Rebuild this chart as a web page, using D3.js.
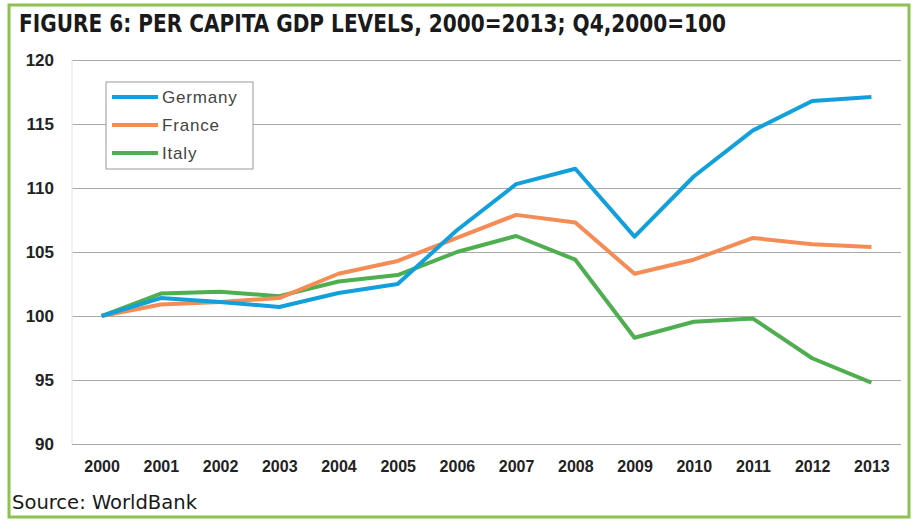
<!DOCTYPE html>
<html>
<head>
<meta charset="utf-8">
<script src="https://cdnjs.cloudflare.com/ajax/libs/d3/7.8.5/d3.min.js"></script>
<style>
  body { margin: 0; background: #fff; }
  svg { display: block; }
  .ylab text, .xlab text { font-family: "Liberation Sans", Arial, sans-serif; font-weight: bold; fill: #222; }
</style>
</head>
<body>
<div id="main"></div>
<script>
const YEARS = ["2000","2001","2002","2003","2004","2005","2006","2007","2008","2009","2010","2011","2012","2013"];
const GERMANY = [100, 101.4, 101.1, 100.7, 101.8, 102.5, 106.7, 110.3, 111.5, 106.2, 110.9, 114.5, 116.8, 117.1];
const FRANCE  = [100, 100.9, 101.1, 101.4, 103.3, 104.3, 106.1, 107.9, 107.3, 103.3, 104.4, 106.1, 105.6, 105.4];
const ITALY   = [100, 101.75, 101.9, 101.55, 102.7, 103.2, 105.0, 106.25, 104.4, 98.3, 99.55, 99.8, 96.7, 94.8];
const Y_TICKS = [90, 95, 100, 105, 110, 115, 120];

const SERIES = [
  {name: "Germany", values: GERMANY, color: "#12a0dc"},
  {name: "France",  values: FRANCE,  color: "#f58c55"},
  {name: "Italy",   values: ITALY,   color: "#4fae4f"}
];

const width = 912, height = 520;
const plotLeft = 72, plotRight = 901, plotTop = 60, plotBottom = 444;

const svg = d3.select('#main')
  .append('svg')
  .attr('width', width)
  .attr('height', height);

svg.append('rect')
  .attr('width', width).attr('height', height)
  .attr('fill', '#fff');

// green frame
svg.append('rect')
  .attr('x', 9).attr('y', 5)
  .attr('width', 900).attr('height', 512)
  .attr('fill', 'none')
  .attr('stroke', '#8cc152')
  .attr('stroke-width', 3);

svg.append('text')
  .attr('x', 19).attr('y', 32)
  .attr('textLength', 707)
  .attr('lengthAdjust', 'spacingAndGlyphs')
  .style('font-family', '"Liberation Sans Narrow", "DejaVu Sans Condensed", sans-serif')
  .style('font-weight', 'bold')
  .style('font-size', '24px')
  .style('fill', '#1a1a1a')
  .text('FIGURE 6: PER CAPITA GDP LEVELS, 2000=2013; Q4,2000=100');

const x = d3.scalePoint()
  .domain(YEARS)
  .range([plotLeft, plotRight])
  .padding(0.5);

const y = d3.scaleLinear()
  .domain([90, 120])
  .range([plotBottom, plotTop]);

// gridlines + y labels
const yAxis = svg.append('g')
  .attr('class', 'ylab')
  .attr('transform', `translate(${plotLeft},0)`)
  .call(d3.axisLeft(y).tickValues(Y_TICKS).tickSize(-(plotRight - plotLeft)).tickPadding(18));
yAxis.select('.domain').remove();
yAxis.selectAll('line').attr('stroke', '#a8a8a8').attr('stroke-width', 1);
yAxis.selectAll('text').style('font-size', '17px');

svg.append('line')
  .attr('x1', plotLeft).attr('x2', plotLeft)
  .attr('y1', plotTop).attr('y2', plotBottom)
  .attr('stroke', '#e2e2e2');

const xAxis = svg.append('g')
  .attr('class', 'xlab')
  .attr('transform', `translate(0,${plotBottom})`)
  .call(d3.axisBottom(x).tickSize(0).tickPadding(17));
xAxis.select('.domain').remove();
xAxis.selectAll('text').style('font-size', '16px');

const line = d3.line()
  .x((d, i) => x(YEARS[i]))
  .y(d => y(d));

svg.selectAll('.series')
  .data(SERIES.slice().reverse())
  .enter().append('path')
  .attr('class', 'series')
  .attr('d', d => line(d.values))
  .attr('fill', 'none')
  .attr('stroke', d => d.color)
  .attr('stroke-width', 4)
  .attr('stroke-linejoin', 'round');

// legend
const legend = svg.append('g').attr('transform', 'translate(106,82)');
legend.append('rect')
  .attr('width', 147).attr('height', 87)
  .attr('fill', '#fff')
  .attr('stroke', '#9a9a9a');
const item = legend.selectAll('.item')
  .data(SERIES)
  .enter().append('g')
  .attr('transform', (d, i) => `translate(6,${15 + i * 28})`);
item.append('line')
  .attr('x1', 0).attr('x2', 46)
  .attr('stroke', d => d.color)
  .attr('stroke-width', 4);
item.append('text')
  .attr('x', 50).attr('y', 6)
  .style('font-family', '"Liberation Sans", Arial, sans-serif')
  .style('font-size', '17px')
  .style('letter-spacing', '0.8px')
  .style('fill', '#444')
  .text(d => d.name);

svg.append('text')
  .attr('x', 12).attr('y', 509)
  .attr('textLength', 185)
  .attr('lengthAdjust', 'spacingAndGlyphs')
  .style('font-family', '"Liberation Sans Narrow", "DejaVu Sans Condensed", sans-serif')
  .style('font-size', '20px')
  .style('fill', '#1a1a1a')
  .text('Source: WorldBank');
</script>
</body>
</html>
